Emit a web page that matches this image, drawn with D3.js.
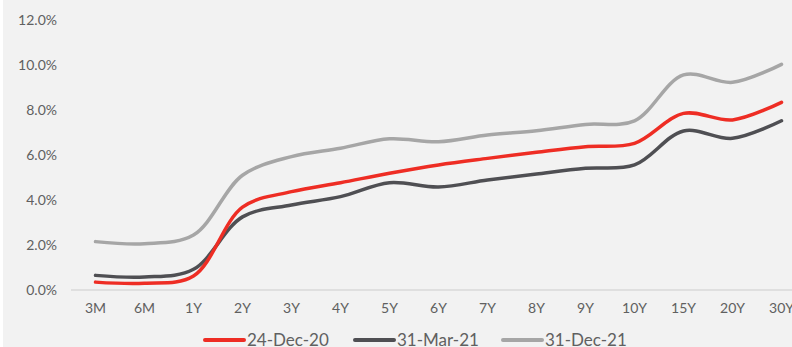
<!DOCTYPE html>
<html>
<head>
<meta charset="utf-8">
<script src="https://cdn.jsdelivr.net/npm/d3@7"></script>
<style>
body { margin: 0; background: #ffffff; }
svg { display: block; }
text { font-family: "Lato", "DejaVu Sans", sans-serif; }
</style>
</head>
<body>
<svg width="792" height="347"></svg>
<script>
var tenors = ["3M","6M","1Y","2Y","3Y","4Y","5Y","6Y","7Y","8Y","9Y","10Y","15Y","20Y","30Y"];
var dec20 = [0.35, 0.30, 0.62, 3.68, 4.37, 4.77, 5.19, 5.56, 5.85, 6.12, 6.37, 6.52, 7.85, 7.56, 8.34];
var mar21 = [0.65, 0.58, 0.92, 3.25, 3.78, 4.15, 4.77, 4.58, 4.89, 5.16, 5.41, 5.56, 7.07, 6.74, 7.52];
var dec21 = [2.15, 2.06, 2.44, 5.10, 5.93, 6.30, 6.72, 6.59, 6.89, 7.08, 7.36, 7.52, 9.56, 9.23, 10.03];
var seriesNames = ["24-Dec-20", "31-Mar-21", "31-Dec-21"];
var yTicks = [0, 2, 4, 6, 8, 10, 12];

var colors = ["#ee2d24", "#4f4f53", "#a6a6a6"];
var allSeries = [dec20, mar21, dec21];

var svg = d3.select("svg");
svg.append("rect").attr("x", 3).attr("y", 0).attr("width", 789).attr("height", 347).style("fill", "#f2f2f2");

var xScale = d3.scaleBand().domain(tenors).range([71, 806]);
var yScale = d3.scaleLinear().domain([0, 12]).range([290, 20]);

// y labels
svg.append("g").selectAll("text")
  .data(yTicks)
  .enter()
  .append("text")
  .attr("x", 57)
  .attr("y", function(d){return yScale(d) + 5})
  .attr("text-anchor", "end")
  .style("font-size", "14px")
  .style("fill", "#606060")
  .text(function(d){return d.toFixed(1) + "%"});

// x axis line
svg.append("line")
  .attr("x1", 71).attr("x2", 792)
  .attr("y1", yScale(0)).attr("y2", yScale(0))
  .style("stroke", "#d9d9d9").style("stroke-width", "1.5px");

var xAxis = d3.axisBottom().scale(xScale).tickSize(0).tickPadding(13);
var xG = svg.append("g").attr("transform", "translate(0," + yScale(0) + ")").call(xAxis);
xG.select(".domain").remove();
xG.selectAll("text").style("font-size", "14px").style("fill", "#606060").style("font-family", "Lato, 'DejaVu Sans', sans-serif");

var line = d3.line()
  .x(function(d, i){return xScale(tenors[i]) + xScale.bandwidth() / 2})
  .y(function(d){return yScale(d)})
  .curve(d3.curveCatmullRom.alpha(0.5));

// draw back to front like the original
[2, 1, 0].forEach(function(k){
  svg.append("path")
    .datum(allSeries[k])
    .attr("d", line)
    .style("fill", "none")
    .style("stroke", colors[k])
    .style("stroke-width", "3.5px")
    .style("stroke-linecap", "round");
});

// legend
var legX = [205, 355, 503];
var leg = svg.append("g").selectAll("g")
  .data(seriesNames)
  .enter()
  .append("g");
leg.append("line")
  .attr("x1", function(d, i){return legX[i]})
  .attr("x2", function(d, i){return legX[i] + 39})
  .attr("y1", 340).attr("y2", 340)
  .style("stroke", function(d, i){return colors[i]})
  .style("stroke-width", "4px")
  .style("stroke-linecap", "round");
leg.append("text")
  .attr("x", function(d, i){return legX[i] + 42})
  .attr("y", 346)
  .style("font-size", "17px")
  .style("fill", "#606060")
  .text(function(d){return d});
</script>
</body>
</html>
